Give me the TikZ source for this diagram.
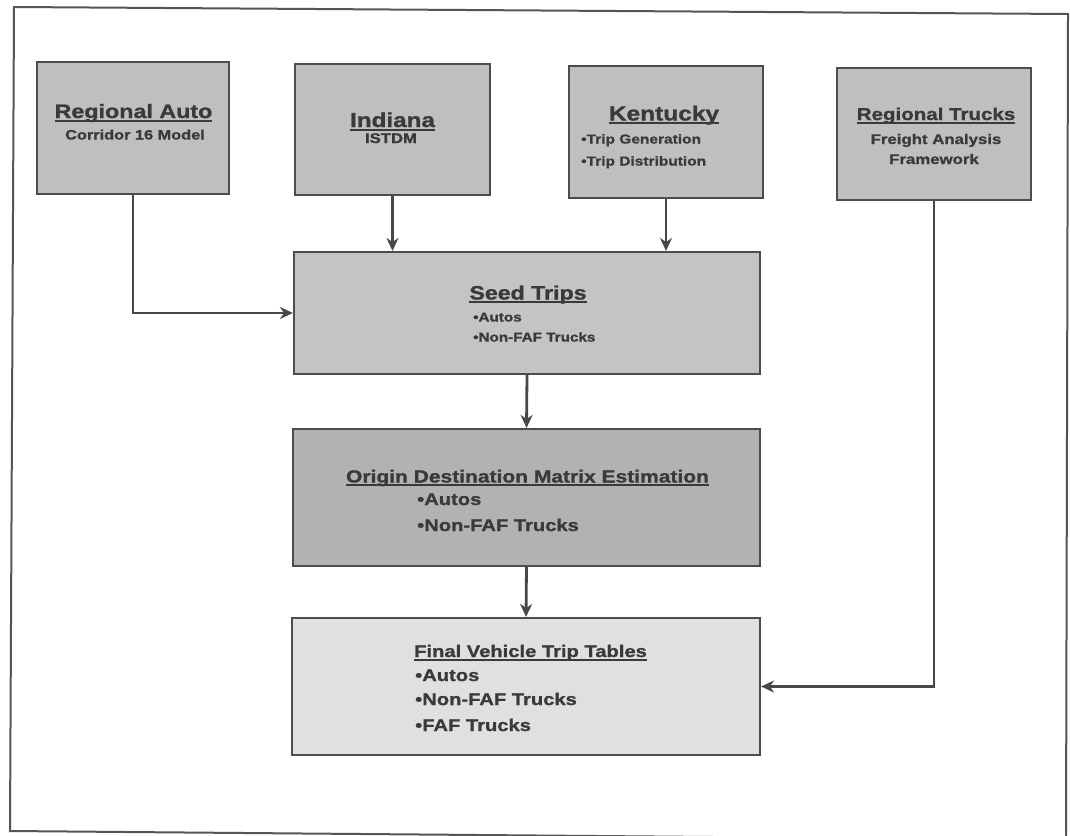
\documentclass[tikz,border=0pt]{standalone}
\usepackage{fontspec}
\newfontfamily\wfont{Liberation Sans}[FakeStretch=1.2, FakeBold=1.2]
\usetikzlibrary{arrows.meta}
\definecolor{topfill}{HTML}{BFBFBF}
\definecolor{seedfill}{HTML}{C4C4C4}
\definecolor{odmefill}{HTML}{B2B2B2}
\definecolor{finalfill}{HTML}{E0E0E0}
\definecolor{bordc}{HTML}{4D4D4D}
\definecolor{linec}{HTML}{484848}
\definecolor{txtc}{HTML}{3A3A3A}
\definecolor{framec}{HTML}{555555}
\newcommand\txtsz[1]{\wfont\bfseries\fontsize{#1}{#1}\selectfont}
\newcommand\ttlul[1]{\setbox0\hbox{#1}\leavevmode\rlap{\rule[-3.8pt]{\wd0}{2.2pt}}\box0}
\tikzset{
  box/.style={draw=bordc, line width=2.2pt, rectangle, inner sep=0pt},
  lbl/.style={anchor=base, inner sep=0pt, text=txtc},
  lbll/.style={anchor=base west, inner sep=0pt, text=txtc},
  conn/.style={draw=linec, line width=2.8pt, -{Stealth[length=13pt,width=12pt]}},
}
\begin{document}
\begin{tikzpicture}[x=1pt,y=-1pt]
\useasboundingbox (0,0) rectangle (1070,835);
\fill[white] (0,0) rectangle (1070,835);
\draw[framec, line width=2pt] (14,7) -- (1068,14) -- (1066,840) -- (10,831) -- cycle;

% top boxes
\node[box, fill=topfill, minimum width=192pt, minimum height=132pt] (ra) at (133,128) {};
\node[box, fill=topfill, minimum width=195pt, minimum height=131pt] (ind) at (392.5,129.5) {};
\node[box, fill=topfill, minimum width=194pt, minimum height=132pt] (ky) at (666,132) {};
\node[box, fill=topfill, minimum width=194pt, minimum height=132pt] (rt) at (934,134) {};

\node[lbl, font=\txtsz{19.4}] (raT) at (133.5,118) {\ttlul{Regional Auto}};
\node[lbl, font=\txtsz{13.6}] (raS) at (135,139.5) {Corridor 16 Model};

\node[lbl, font=\txtsz{20.2}] (indT) at (392.5,127) {\ttlul{Indiana}};
\node[lbl, font=\txtsz{13.9}] (indS) at (391,143) {ISTDM};

\node[lbl, font=\txtsz{20.4}] (kyT) at (664,120.5) {\ttlul{Kentucky}};
\node[lbll, font=\txtsz{12.9}] (kyA) at (581,143.5) {•Trip Generation};
\node[lbll, font=\txtsz{12.9}] (kyB) at (581,165.5) {•Trip Distribution};

\node[lbl, font=\txtsz{17.1}] (rtT) at (936,120) {\ttlul{Regional Trucks}};
\node[lbl, font=\txtsz{14}] (rtA) at (936,144) {Freight Analysis};
\node[lbl, font=\txtsz{14}] (rtB) at (934,164) {Framework};

% middle boxes
\node[box, fill=seedfill, minimum width=466pt, minimum height=122pt] (seed) at (527,313) {};
\node[lbl, font=\txtsz{19.3}] (seedT) at (528,299.5) {\ttlul{Seed Trips}};
\node[lbll, font=\txtsz{12.7}] (seedA) at (473,321.5) {•Autos};
\node[lbll, font=\txtsz{12.7}] (seedB) at (473,341.5) {•Non-FAF Trucks};

\node[box, fill=odmefill, minimum width=467pt, minimum height=137pt] (odme) at (526.5,497.5) {};
\node[lbl, font=\txtsz{17.5}] (odmeT) at (527.5,482.5) {\ttlul{Origin Destination Matrix Estimation}};
\node[lbll, font=\txtsz{16.8}] (odmeA) at (417,505) {•Autos};
\node[lbll, font=\txtsz{16.8}] (odmeB) at (417,531) {•Non-FAF Trucks};

\node[box, fill=finalfill, minimum width=468pt, minimum height=137pt] (final) at (526,686.5) {};
\node[lbl, font=\txtsz{16.8}] (finalT) at (530.5,657) {\ttlul{Final Vehicle Trip Tables}};
\node[lbll, font=\txtsz{16.8}] (finalA) at (415,681) {•Autos};
\node[lbll, font=\txtsz{16.8}] (finalB) at (415,705) {•Non-FAF Trucks};
\node[lbll, font=\txtsz{16.8}] (finalC) at (415,731) {•FAF Trucks};

% connectors
\draw[conn] (ra.south) |- (seed.west);
\draw[conn] (ind.south) -- (ind.south |- seed.north);
\draw[conn] (ky.south) -- (ky.south |- seed.north);
\draw[conn] (seed.south) -- (odme.north);
\draw[conn] (odme.south) -- (final.north);
\draw[conn] (rt.south) |- (final.east);
\end{tikzpicture}
\end{document}
